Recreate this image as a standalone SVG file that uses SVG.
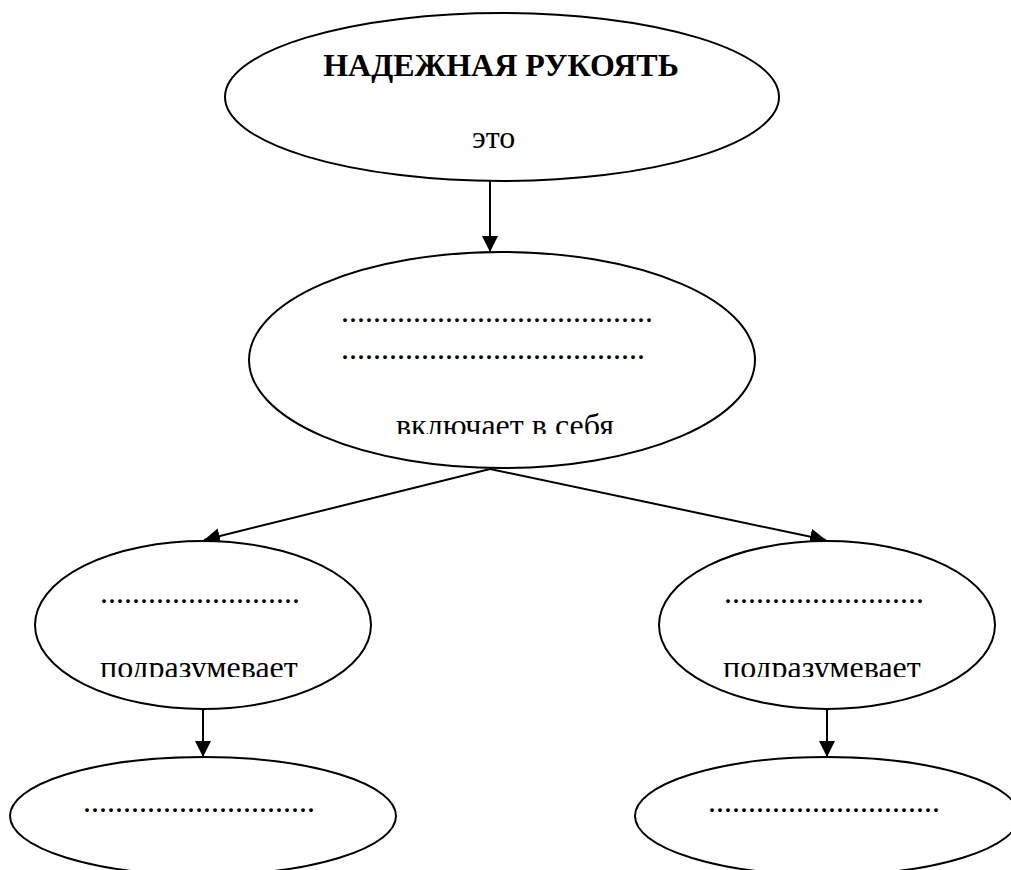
<svg xmlns="http://www.w3.org/2000/svg" width="1011" height="870" viewBox="0 0 1011 870">
<style>
.n{fill:#fff;stroke:#000;stroke-width:2}
.t{font-size:32px;fill:#000}
.b{font-weight:bold}
.c{stroke:#000;stroke-width:2;fill:none}
</style>
<defs>
<marker id="ah" markerUnits="userSpaceOnUse" markerWidth="16" markerHeight="16" viewBox="0 0 16 16" refX="16" refY="8" orient="auto">
<path d="M0,0 L16,8 L0,16 z" fill="#000"/>
</marker>
<clipPath id="clipMid"><rect x="0" y="0" width="1011" height="434"/></clipPath>
<clipPath id="clipLow"><rect x="0" y="0" width="1011" height="677"/></clipPath>
</defs>
<g id="connectors">
<line class="c" x1="490" y1="181" x2="490" y2="252" marker-end="url(#ah)"/>
<line class="c" x1="490" y1="469" x2="204" y2="540" marker-end="url(#ah)"/>
<line class="c" x1="490" y1="469" x2="826" y2="540" marker-end="url(#ah)"/>
<line class="c" x1="203" y1="709" x2="203" y2="757" marker-end="url(#ah)"/>
<line class="c" x1="827" y1="709" x2="827" y2="757" marker-end="url(#ah)"/>
</g>
<g font-family="Liberation Serif, DejaVu Serif, serif">
<g id="node-top">
<ellipse class="n" cx="502" cy="97" rx="277" ry="84"/>
<text class="t b" x="501" y="76" text-anchor="middle">НАДЕЖНАЯ РУКОЯТЬ</text>
<text class="t" x="472" y="148">это</text>
</g>
<g id="node-middle">
<ellipse class="n" cx="502" cy="360" rx="253" ry="108"/>
<text class="t" x="341" y="322" textLength="312" lengthAdjust="spacing">.......................................</text>
<text class="t" x="341" y="359" textLength="304" lengthAdjust="spacing">......................................</text>
<text class="t" x="396" y="436" clip-path="url(#clipMid)">включает в себя</text>
</g>
<g id="node-left">
<ellipse class="n" cx="203" cy="625" rx="168" ry="84"/>
<text class="t" x="100" y="603" textLength="200" lengthAdjust="spacing">.........................</text>
<text class="t" x="100" y="678" clip-path="url(#clipLow)">подразумевает</text>
</g>
<g id="node-right">
<ellipse class="n" cx="827" cy="625" rx="168" ry="84"/>
<text class="t" x="724" y="603" textLength="200" lengthAdjust="spacing">.........................</text>
<text class="t" x="723" y="678" clip-path="url(#clipLow)">подразумевает</text>
</g>
<g id="node-bottom-left">
<ellipse class="n" cx="203" cy="816" rx="193" ry="59"/>
<text class="t" x="83" y="812" textLength="232" lengthAdjust="spacing">.............................</text>
</g>
<g id="node-bottom-right">
<ellipse class="n" cx="827" cy="816" rx="192" ry="59"/>
<text class="t" x="708" y="812" textLength="232" lengthAdjust="spacing">.............................</text>
</g>
</g>
</svg>
